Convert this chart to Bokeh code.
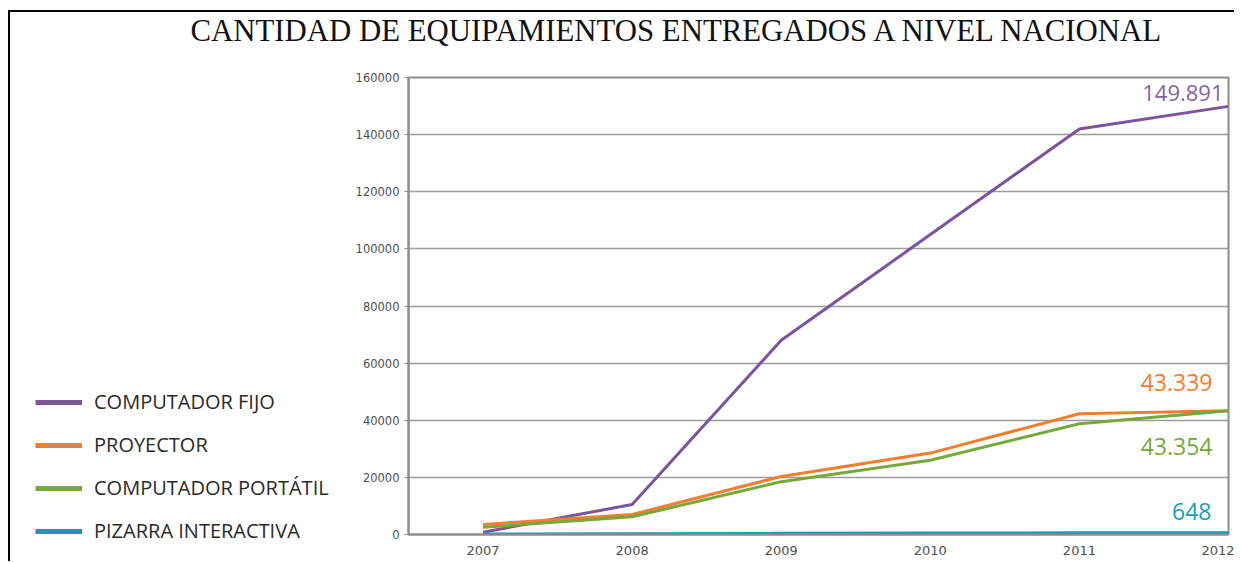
from bokeh.plotting import figure
from bokeh.layouts import column, row
from bokeh.models import (Range1d, FixedTicker, NumeralTickFormatter, Legend,
                          LegendItem, ColumnDataSource, Label)
from bokeh.core.properties import value
from bokeh.embed import file_html
from bokeh.resources import INLINE

title_text = "CANTIDAD DE EQUIPAMIENTOS ENTREGADOS A NIVEL NACIONAL"
years = [2007, 2008, 2009, 2010, 2011, 2012]
computador_fijo = [800, 10500, 68000, 105000, 142000, 149891]
proyector = [3500, 7000, 20300, 28500, 42300, 43339]
computador_portatil = [2500, 6200, 18500, 26000, 38800, 43354]
pizarra_interactiva = [200, 300, 400, 500, 600, 648]
series_names = ["COMPUTADOR FIJO", "PROYECTOR", "COMPUTADOR PORTÁTIL", "PIZARRA INTERACTIVA"]
end_labels = ["149.891", "43.339", "43.354", "648"]
y_ticks = [0, 20000, 40000, 60000, 80000, 100000, 120000, 140000, 160000]

colors = ["#7b559c", "#f47d30", "#78a83c", "#1b9ab2"]
label_colors = ["#86649f", "#f47d30", "#78a83c", "#1f9cb4"]
series = [computador_fijo, proyector, computador_portatil, pizarra_interactiva]


def no_align(fig):
    if "frame_align" in fig.properties():
        fig.frame_align = False


# ---- title strip
tf = figure(width=1224, height=50, output_backend="svg", toolbar_location=None,
            x_axis_location=None, y_axis_location=None,
            min_border=0, outline_line_color=None)
tf.grid.visible = False
no_align(tf)
tf.add_layout(Label(x=180, y=32, x_units="screen", y_units="screen",
                    text=title_text, text_font="Liberation Serif",
                    text_font_size="30.8px", text_color="#111111",
                    text_baseline="middle", text_align="left"))

# ---- legend panel
lf = figure(width=340, height=499, output_backend="svg", toolbar_location=None,
            x_axis_location=None, y_axis_location=None,
            min_border=0, outline_line_color=None)
lf.grid.visible = False
no_align(lf)
items = []
for name, vals, col in zip(series_names, series, colors):
    r = lf.line([years[0]], [vals[0]], line_color=col, line_width=5)
    items.append(LegendItem(label=name, renderers=[r]))
legend = Legend(items=items, location=(25, 17), orientation="vertical",
                glyph_width=47, glyph_height=20, label_height=20,
                label_standoff=12, spacing=16, padding=0, margin=0,
                border_line_color=None, background_fill_alpha=0,
                label_text_font="Open Sans", label_text_font_size="20px",
                label_text_color="#2a2a2a")
lf.add_layout(legend)

# ---- main chart
p = figure(width=884, height=499,
           x_range=Range1d(2006.5, 2012), y_range=Range1d(0, 160000),
           output_backend="svg", toolbar_location=None,
           min_border_left=58, min_border_right=6,
           min_border_top=15, min_border_bottom=27)
no_align(p)

p.outline_line_color = "#8c8c8c"
p.outline_line_width = 2
p.xgrid.visible = False
p.ygrid.grid_line_color = "#9c9c9c"
p.ygrid.grid_line_width = 1.6
p.ygrid.ticker = FixedTicker(ticks=y_ticks)

p.yaxis.ticker = FixedTicker(ticks=y_ticks)
p.yaxis.formatter = NumeralTickFormatter(format="0")
p.yaxis.major_label_text_font = "DejaVu Sans"
p.yaxis.major_label_text_font_size = "11.5px"
p.yaxis.major_label_text_color = "#505050"
p.yaxis.axis_line_color = "#8c8c8c"
p.yaxis.axis_line_width = 2
p.yaxis.major_tick_line_color = "#8c8c8c"
p.yaxis.major_tick_out = 4
p.yaxis.major_tick_in = 0
p.yaxis.minor_tick_line_color = None
p.yaxis.major_label_standoff = 5

p.xaxis.ticker = FixedTicker(ticks=years)
p.xaxis.major_label_text_font = "DejaVu Sans"
p.xaxis.major_label_text_font_size = "13px"
p.xaxis.major_label_text_color = "#505050"
p.xaxis.axis_line_color = "#8c8c8c"
p.xaxis.axis_line_width = 2
p.xaxis.major_tick_out = 0
p.xaxis.major_tick_in = 0
p.xaxis.minor_tick_line_color = None
p.xaxis.major_label_standoff = 11

for vals, col in zip(series, colors):
    p.line(years, vals, line_color=col, line_width=3, line_join="round")

lab = ColumnDataSource(dict(
    x=[years[-1]] * 4,
    y=[s[-1] for s in series],
    text=end_labels,
    color=label_colors,
    xo=[-5, -16, -16, -17],
    yo=[-13, -28, 36, -21],
    size=["22px", "23px", "23px", "23px"],
))
p.text(x="x", y="y", text="text", text_color="color", x_offset="xo",
       y_offset="yo", text_font_size="size", text_align="right",
       text_baseline="middle", text_font=value("Open Sans"), source=lab)

layout = column(tf, row(lf, p), spacing=0,
                styles={"border-left": "2px solid #000",
                        "border-top": "2px solid #000",
                        "margin-left": "8px", "margin-top": "10px"})

open("out.html", "w").write(file_html(layout, INLINE))
